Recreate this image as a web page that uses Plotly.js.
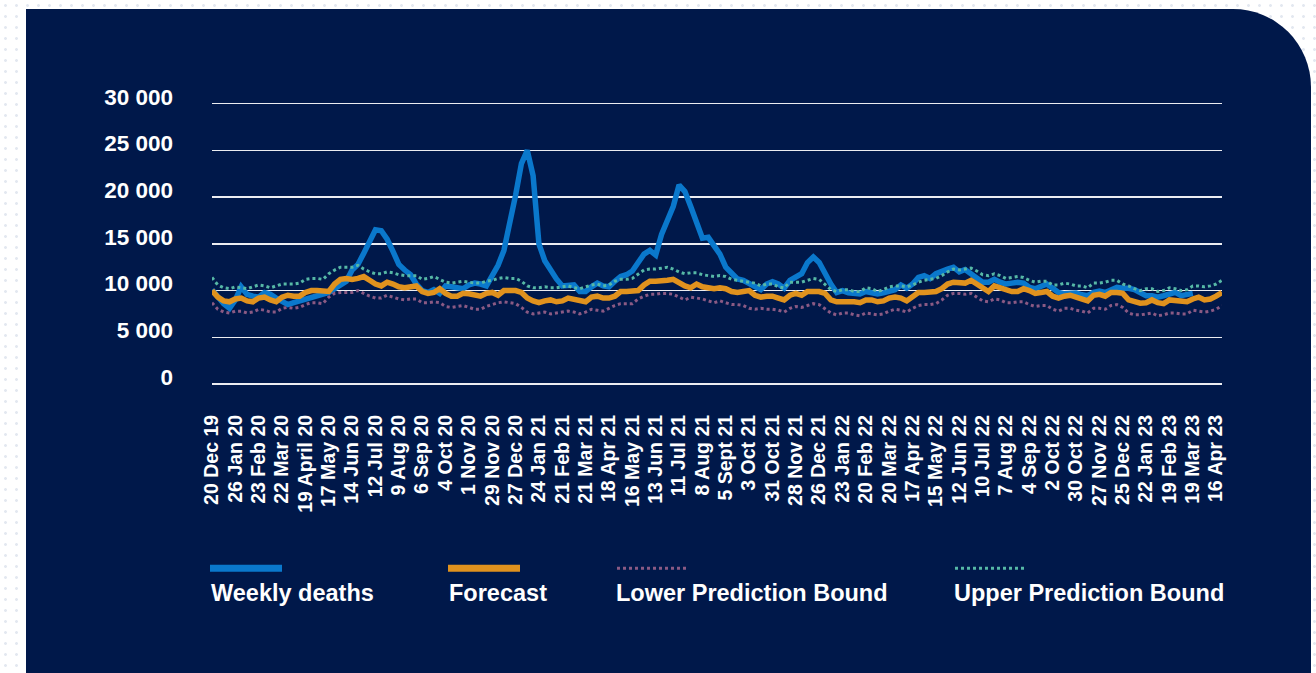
<!DOCTYPE html>
<html>
<head>
<meta charset="utf-8">
<script src="https://cdn.plot.ly/plotly-3.0.1.min.js"></script>
<style>
  html, body { margin: 0; padding: 0; width: 1316px; height: 673px; overflow: hidden;
    background-color: #ffffff;
    background-image: radial-gradient(circle, #e3e8f0 1.2px, transparent 1.6px);
    background-size: 11px 11px; }
  #panel { position: absolute; left: 26px; top: 9px; width: 1285px; height: 700px;
    background: #00184a; border-top-right-radius: 78px; }
  #chart { position: absolute; left: 0; top: 0; width: 1316px; height: 673px; }
</style>
</head>
<body>
<div id="panel"></div>
<div id="chart"></div>
<script>
// ---- data (weekly, starting 20 Dec 2019) ----
const tickLabels = ["20 Dec 19","26 Jan 20","23 Feb 20","22 Mar 20","19 April 20","17 May 20","14 Jun 20","12 Jul 20","9 Aug 20","6 Sep 20","4 Oct 20","1 Nov 20","29 Nov 20","27 Dec 20","24 Jan 21","21 Feb 21","21 Mar 21","18 Apr 21","16 May 21","13 Jun 21","11 Jul 21","8 Aug 21","5 Sept 21","3 Oct 21","31 Oct 21","28 Nov 21","26 Dec 21","23 Jan 22","20 Feb 22","20 Mar 22","17 Apr 22","15 May 22","12 Jun 22","10 Jul 22","7 Aug 22","4 Sep 22","2 Oct 22","30 Oct 22","27 Nov 22","25 Dec 22","22 Jan 23","19 Feb 23","19 Mar 23","16 Apr 23"];
const weeksPerTick = 4;

const weeklyDeaths = [
10100,9300,8600,8100,9000,10400,9600,9400,9300,9800,
9600,9200,8800,8500,8700,8900,9100,9200,9400,9600,
9800,10200,10600,11000,12200,12800,14000,15200,16500,16400,
15500,14200,12800,12200,11700,10700,10000,9800,10100,9700,
10500,10400,10300,10200,10600,10800,10700,10500,11600,12700,
14300,17000,20200,23600,25000,22300,15000,13200,12100,11250,
10500,10500,10600,9900,9900,10400,10800,10500,10400,11000,
11500,11700,12100,13000,13900,14300,13800,16000,17500,19000,
21300,20600,19000,17300,15600,15700,14800,13900,12500,11800,
11250,11100,10800,10500,10100,10700,10950,10700,10250,11100,
11500,11800,13000,13600,13000,11800,10700,9800,10000,9750,
9650,9650,9900,9800,9650,9750,9900,10100,10600,10250,
10700,11400,11600,11300,11800,12100,12300,12500,12000,12250,
11800,11300,10900,10900,11200,10900,10700,10800,10900,10800,
10350,10200,10500,10700,10250,9800,9650,9750,9750,9550,
9450,9800,9950,9800,10100,10350,10250,10250,10100,9750,
9450,9450,9300,9450,9650,9800,9450,9650,9700];

const forecast = [
10000,9300,8900,8800,9100,9200,8900,8800,9200,9300,
9000,8800,9300,9500,9400,9400,9800,10000,10000,10000,
9900,10700,11200,11300,11200,11300,11500,11100,10700,10500,
10900,10700,10400,10300,10400,10500,9900,9700,9800,10200,
9700,9400,9400,9700,9650,9500,9400,9700,9800,9500,
10000,10000,10000,9800,9200,8900,8700,8900,9000,8800,
8900,9200,9100,8900,8800,9300,9400,9200,9200,9400,
9900,9900,9900,10000,10600,11000,11000,11000,11100,11200,
10800,10500,10300,10700,10400,10300,10200,10300,10200,9900,
9800,9900,10000,9500,9300,9400,9400,9200,9000,9500,
9700,9500,9900,9900,9900,9700,9000,8800,8800,8900,
8800,8700,9000,9000,8800,8900,9200,9300,9200,8900,
9300,9800,9800,9900,9900,10200,10700,10900,10900,10800,
11100,10700,10200,9900,10500,10300,10000,9900,9900,10200,
10000,9700,9800,9900,9400,9200,9400,9500,9300,9100,
8900,9500,9600,9400,9800,9800,9700,9000,8800,8650,
8700,9000,8700,8600,9000,8900,8800,8800,9100,9300,
9000,9100,9400,9800];

const lowerBound = [
8700,8000,7700,7600,7800,7800,7600,7700,8000,7900,
7700,7700,8100,8200,8100,8200,8500,8700,8700,8600,
9300,9700,9800,9800,9800,10000,9700,9400,9200,9200,
9500,9300,9100,9000,9100,9100,8700,8700,8800,8700,
8300,8200,8300,8400,8200,8000,8000,8300,8500,8700,
8800,8700,8600,8200,7700,7500,7600,7700,7500,7600,
7700,7800,7700,7500,7700,8000,7900,7800,8100,8400,
8600,8600,8600,9100,9400,9600,9600,9700,9700,9600,
9300,9000,9300,9200,9100,8900,8700,8900,8700,8500,
8500,8400,8100,8000,8100,8000,8000,7900,7700,8100,
8300,8200,8400,8600,8500,8000,7600,7400,7600,7600,
7400,7300,7600,7500,7400,7500,7800,8000,7900,7700,
8100,8400,8500,8500,8600,9000,9500,9700,9700,9600,
9700,9300,8900,8800,9100,9000,8700,8700,8800,8800,
8500,8300,8400,8400,8000,7800,8100,8100,7900,7800,
7600,8100,8100,8000,8400,8500,8200,7600,7400,7400,
7500,7600,7300,7400,7600,7600,7500,7500,7900,7800,
7700,7800,8000,8400];

const upperBound = [
11400,10600,10300,10200,10400,10300,10200,10400,10600,10500,
10300,10500,10700,10700,10700,10800,11200,11300,11300,11200,
11800,12200,12500,12500,12500,12700,12300,12000,11800,11800,
12000,11900,11700,11600,11600,11600,11200,11300,11500,11200,
10900,10800,10900,11000,10900,10800,10800,11000,11100,11300,
11400,11300,11300,11000,10500,10300,10300,10400,10300,10300,
10400,10500,10300,10200,10400,10600,10700,10500,10600,11000,
11200,11200,11300,11800,12200,12300,12300,12400,12500,12300,
12000,11800,11900,11900,11700,11600,11500,11600,11500,11200,
11100,11000,10900,10800,10500,10700,10700,10400,10300,10900,
10900,10900,11100,11300,11200,10600,10100,9900,10100,10100,
9900,9900,10300,10200,9900,10100,10400,10500,10500,10400,
10600,10900,11100,11200,11300,11600,12000,12300,12200,12300,
12400,12100,11700,11600,11800,11600,11300,11400,11500,11400,
11100,10900,11000,11000,10600,10600,10800,10700,10500,10500,
10300,10800,10800,10900,11100,11100,10700,10500,10200,10000,
10200,10200,9900,10000,10300,10200,10000,10100,10500,10500,
10400,10500,10700,11100];

const seriesNames = ["Weekly deaths", "Forecast", "Lower Prediction Bound", "Upper Prediction Bound"];
const yTicks = [0, 5000, 10000, 15000, 20000, 25000, 30000];

// ---- build ----
const weeks = forecast.map((_, i) => i);
const tickVals = tickLabels.map((_, i) => i * weeksPerTick);
const FONT = '"Liberation Sans", Arial, sans-serif';
const colors = ['#0a78cc', '#e0921e', '#8a5a84', '#56b8a6'];

const traces = [
  {x: weeks.slice(0, weeklyDeaths.length), y: weeklyDeaths, name: seriesNames[0], mode: 'lines',
   line: {color: colors[0], width: 5.5}},
  {x: weeks, y: forecast, name: seriesNames[1], mode: 'lines', line: {color: colors[1], width: 5.5}},
  {x: weeks, y: lowerBound, name: seriesNames[2], mode: 'lines', line: {color: colors[2], width: 3, dash: 'dot'}},
  {x: weeks, y: upperBound, name: seriesNames[3], mode: 'lines', line: {color: colors[3], width: 3, dash: 'dot'}}
];

// geometry: pixel positions of 0 and 30 000 gridlines, and plot left/right
const L = 212, R = 1222, T = 104, B = 384;
const yTop = 30000, yMax = 30400;               // small headroom so the top gridline is drawn
const pxPerUnit = (B - T) / yTop;
const topMargin = T - (yMax - yTop) * pxPerUnit;
const px2x = p => (p - L) / (R - L);
const py2y = p => (B - p) / (B - topMargin);
const legendX = [210, 448, 617, 955];
const legendTextX = [209, 447, 614, 952];
const shapes = [], annotations = [];
seriesNames.forEach((n, i) => {
  const tr = traces[i];
  shapes.push({type: 'line', xref: 'paper', yref: 'paper',
    x0: px2x(legendX[i]), x1: px2x(legendX[i] + 72), y0: py2y(568), y1: py2y(568),
    line: {color: tr.line.color, width: i < 2 ? 7 : 3, dash: tr.line.dash || 'solid'}});
  annotations.push({xref: 'paper', yref: 'paper', x: px2x(legendTextX[i]), y: py2y(593),
    xanchor: 'left', yanchor: 'middle', showarrow: false, text: n,
    font: {family: FONT, size: 23.5, color: '#ffffff', weight: 700}});
});

const layout = {
  width: 1316, height: 673,
  margin: {l: L, r: 1316 - R, t: topMargin, b: 673 - B},
  paper_bgcolor: 'rgba(0,0,0,0)', plot_bgcolor: 'rgba(0,0,0,0)',
  showlegend: false,
  separators: '. ',
  xaxis: {range: [0, forecast.length - 1], tickvals: tickVals, ticktext: tickLabels,
    tickangle: -90, showgrid: false, zeroline: false, showline: false, ticks: '',
    ticklabelstandoff: 26,
    tickfont: {family: FONT, size: 19.5, color: '#ffffff', weight: 700}},
  yaxis: {range: [0, yMax], tickvals: yTicks, tickformat: ',d',
    showgrid: true, gridcolor: 'rgba(255,255,255,0.92)', gridwidth: 1.5,
    zeroline: true, zerolinecolor: 'rgba(255,255,255,0.92)', zerolinewidth: 1.5,
    showline: false, ticks: '', ticklabelstandoff: 38, ticklabelshift: -7,
    tickfont: {family: FONT, size: 22.5, color: '#ffffff', weight: 700}},
  shapes: shapes, annotations: annotations
};

Plotly.newPlot('chart', traces, layout, {displayModeBar: false, staticPlot: true});
</script>
</body>
</html>
